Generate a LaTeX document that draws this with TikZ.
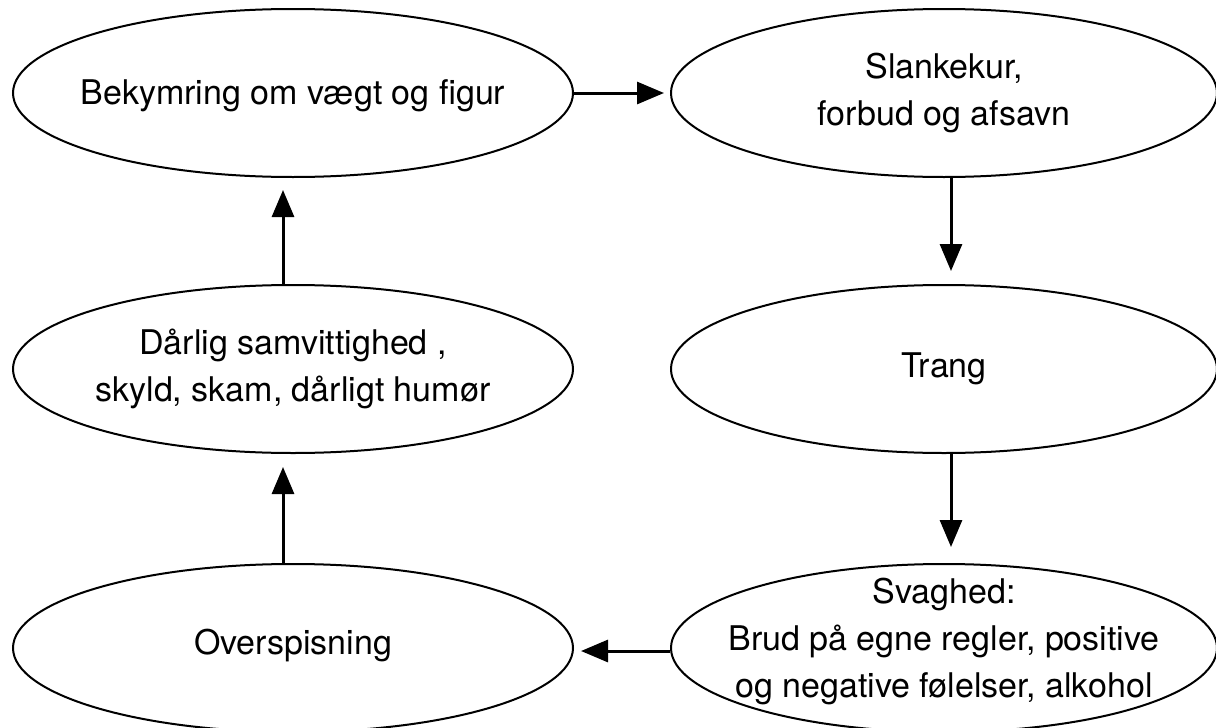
\documentclass[tikz,border=0pt]{standalone}
\usepackage{fontspec}
\setmainfont{TeX Gyre Heros}
\usetikzlibrary{shapes.geometric, arrows.meta, positioning}

\begin{document}
\begin{tikzpicture}[
    node distance=53pt and 48pt,
    oval/.style={ellipse, draw, line width=1pt, minimum width=#1, minimum height=84pt, inner sep=0pt},
    txt/.style={align=center, font=\fontsize{17}{23.5}\selectfont},
    flow/.style={-{Triangle[length=13.5pt, width=11pt]}, line width=1.5pt, #1},
]
    \useasboundingbox (0,0) rectangle (608pt,-364pt);

    % Left column
    \node[oval=280pt, label={[txt, yshift=-1.5pt]center:Bekymring om vægt og figur}] (bekym) at (146.5pt,-46.5pt) {};
    \node[oval=280pt, below=of bekym, label={[txt]center:{Dårlig samvittighed ,\\skyld, skam, dårligt humør}}] (dar) {};
    \node[oval=280pt, below=54.5pt of dar, label={[txt, yshift=1pt]center:Overspisning}] (over) {};

    % Right column
    \node[oval=273pt, right=of bekym, label={[txt]center:{Slankekur,\\forbud og afsavn}}] (slank) {};
    \node[oval=273pt, below=of slank, label={[txt]center:Trang}] (trang) {};
    \node[oval=273pt, below=54.5pt of trang, label={[txt, yshift=3.5pt]center:{Svaghed:\\Brud på egne regler, positive\\og negative følelser, alkohol}}] (svag) {};

    % Arrows
    \draw[flow={shorten >=3pt}] (bekym) -- (slank);
    \draw[flow={shorten >=6.5pt}] ([xshift=3.5pt]slank.south) -- ([xshift=3.5pt]trang.north);
    \draw[flow={shorten >=8pt}] ([xshift=3.5pt]trang.south) -- ([xshift=3.5pt]svag.north);
    \draw[flow={shorten >=3.5pt}] ([yshift=-1.5pt]svag.west) -- ([yshift=-1.5pt]over.east);
    \draw[flow={shorten >=6.5pt}] ([xshift=-5pt]over.north) -- ([xshift=-5pt]dar.south);
    \draw[flow={shorten >=6pt}] ([xshift=-5pt]dar.north) -- ([xshift=-5pt]bekym.south);

\end{tikzpicture}
\end{document}
